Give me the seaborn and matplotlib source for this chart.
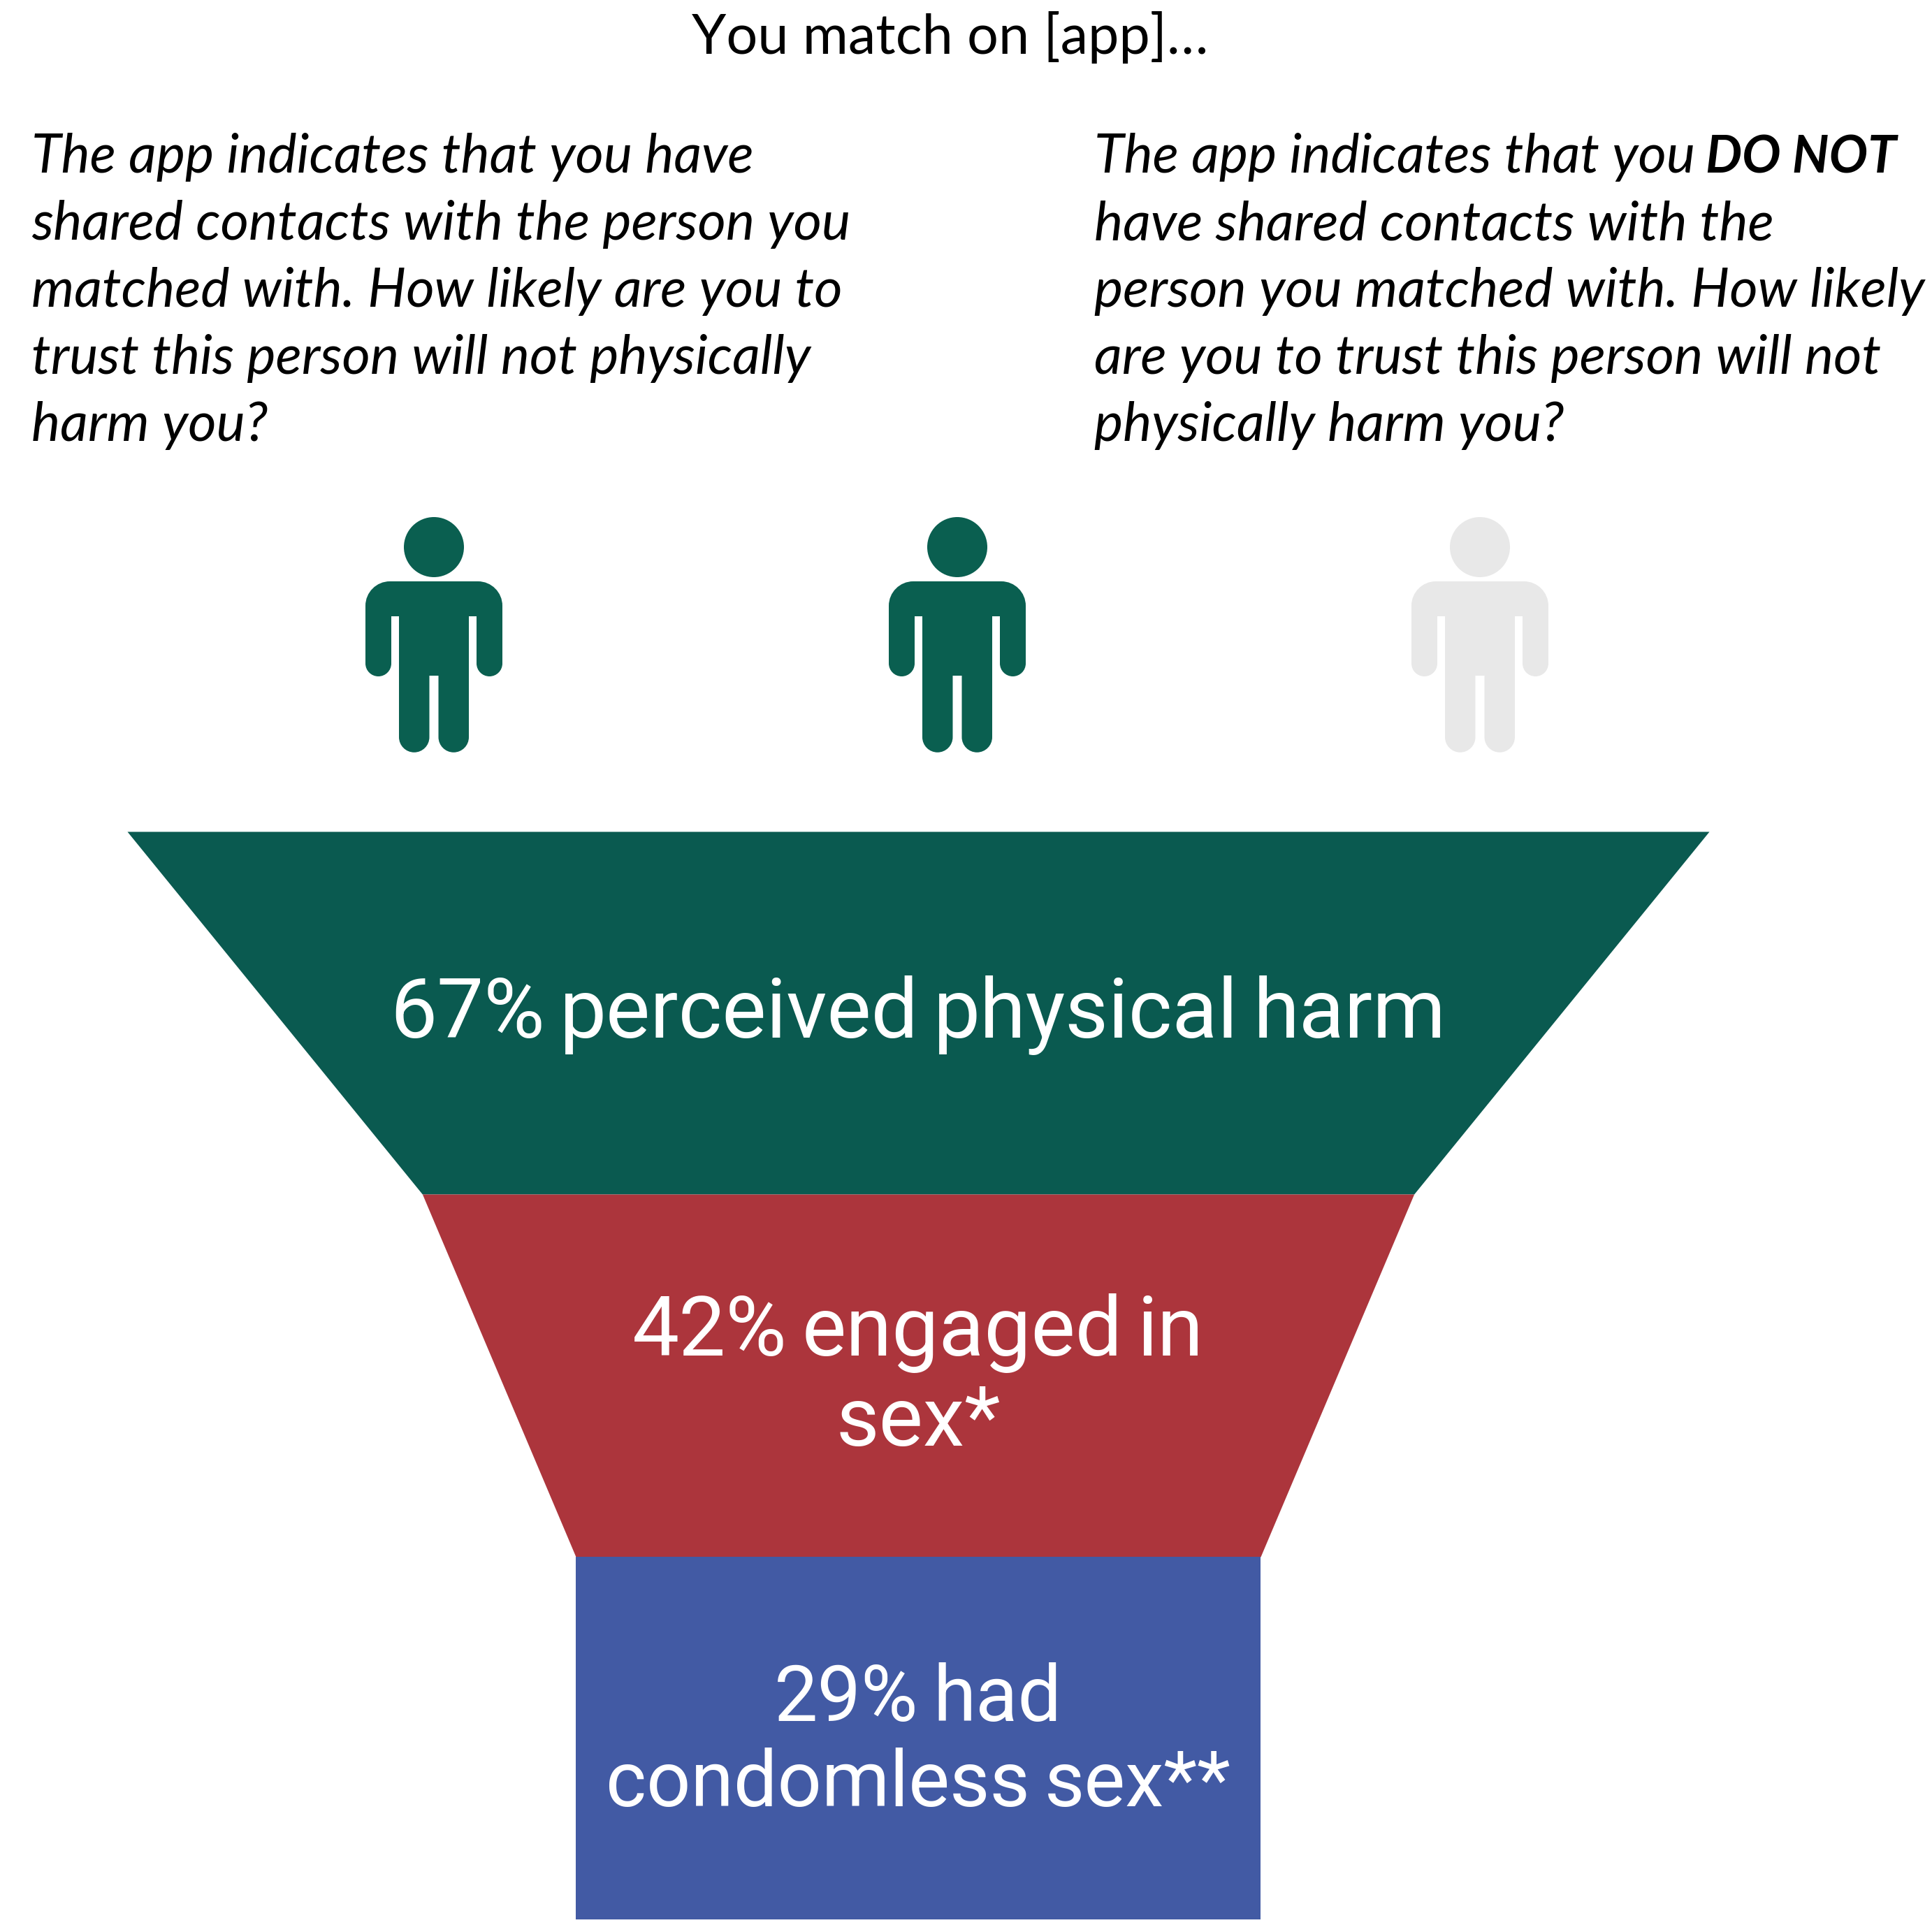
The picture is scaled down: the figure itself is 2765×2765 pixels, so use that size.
import matplotlib
matplotlib.use("Agg")
import matplotlib.pyplot as plt
import numpy as np
import seaborn as sns
from matplotlib.patches import Circle, PathPatch
from matplotlib.path import Path

# Funnel stages: share of respondents at each step
stage_values = [67, 42, 29]
stage_captions = [["{}% perceived physical harm"],
                  ["{}% engaged in", "sex*"],
                  ["{}% had", "condomless sex**"]]

title_text = "You match on [app]\u2026"
left_lines = ["The app indicates that you have",
              "shared contacts with the person you",
              "matched with. How likely are you to",
              "trust this person will not physically",
              "harm you?"]
right_lead = "The app indicates that you "
right_bold = "DO NOT"
right_lines = ["have shared contacts with the",
               "person you matched with. How likely",
               "are you to trust this person will not",
               "physically harm you?"]

# Two of three people are shown as contacts in common
people_shared = [True, True, False]

GREEN, RED, BLUE = "#0A5A50", "#AC353C", "#425AA4"
ICON_ON, ICON_OFF = "#0A5F50", "#E8E8E8"

sns.set_theme(style="white")
stage_colors = sns.color_palette([GREEN, RED, BLUE])

SIZE = 2765
fig = plt.figure(figsize=(SIZE / 100, SIZE / 100), dpi=100, facecolor="white")

# Funnel axes: x runs in percentage points centred on zero, y counts stages
left, right, top, bottom = 182, 2446, 1190, 2747
ax = fig.add_axes([left / SIZE, 1 - bottom / SIZE, (right - left) / SIZE, (bottom - top) / SIZE])
half_span = max(stage_values) / 2
ax.set_xlim(-half_span, half_span)
ax.set_ylim(len(stage_values), 0)
ax.axis("off")

lower_values = stage_values[1:] + stage_values[-1:]
for i, (upper, lower, color) in enumerate(zip(stage_values, lower_values, stage_colors)):
    levels = np.array([i, i + 1])
    half_widths = np.array([upper, lower]) / 2
    ax.fill_betweenx(levels, -half_widths, half_widths, color=color, linewidth=0)

# Overlay in pixel units for the wording and the people
px = fig.add_axes([0, 0, 1, 1], zorder=3)
px.set_xlim(0, SIZE)
px.set_ylim(SIZE, 0)
px.axis("off")
px.patch.set_alpha(0)

BODY = "Lato"
CAPTION = "Roboto"
body_size = 56

px.text(1360, 77, title_text, family=BODY, fontsize=57, ha="center", va="baseline", color="black")

line_gap = 96
first_base = 247
for n, line in enumerate(left_lines):
    px.text(45, first_base + n * line_gap, line, family=BODY, style="italic",
            fontsize=body_size, va="baseline", color="black")

px.text(1566, first_base, right_lead, family=BODY, style="italic",
        fontsize=body_size, va="baseline", color="black")
px.text(2441, first_base, right_bold, family=BODY, style="italic",
        weight="bold", fontsize=53, va="baseline", color="black")
for n, line in enumerate(right_lines, start=1):
    px.text(1566, first_base + n * line_gap, line, family=BODY, style="italic",
            fontsize=body_size, va="baseline", color="black")

# Stage captions are set word by word so the word gap stays tight
caption_bases = [[1485], [1940, 2069], [2463, 2585]]
caption_sizes = [86, 86, 80]
word_gap = 21
centre = (left + right) / 2
renderer = fig.canvas.get_renderer()
for value, lines, bases, size in zip(stage_values, stage_captions, caption_bases, caption_sizes):
    for line, base in zip(lines, bases):
        words = [px.text(0, base, w, family=CAPTION, fontsize=size, va="baseline", color="white")
                 for w in line.format(value).split(" ")]
        widths = [w.get_window_extent(renderer).width for w in words]
        x = centre - (sum(widths) + word_gap * (len(words) - 1)) / 2
        for word, width in zip(words, widths):
            word.set_x(x)
            x += width + word_gap


def arc(cx, cy, r, start, end):
    """Cubic control points for a quarter circle, excluding its first point."""
    k = 0.5523
    a0, a1 = np.radians(start), np.radians(end)
    p0 = np.array([cx + r * np.cos(a0), cy + r * np.sin(a0)])
    p3 = np.array([cx + r * np.cos(a1), cy + r * np.sin(a1)])
    d0 = np.array([-np.sin(a0), np.cos(a0)]) * np.sign(end - start)
    d3 = np.array([-np.sin(a1), np.cos(a1)]) * np.sign(end - start)
    return [tuple(p0 + k * r * d0), tuple(p3 - k * r * d3), tuple(p3)]


def half_body():
    """Right half of the person's outline, origin at the middle of the shoulder line."""
    verts = [(-2, 0), (63, 0)]
    codes = [Path.MOVETO, Path.LINETO]

    def curve(*args):
        verts.extend(arc(*args))
        codes.extend([Path.CURVE4] * 3)

    def line(x, y):
        verts.append((x, y))
        codes.append(Path.LINETO)

    curve(63, 35, 35, -90, 0)          # shoulder
    line(98, 117.5)
    curve(79.5, 117.5, 18.5, 0, 90)    # hand
    curve(79.5, 117.5, 18.5, 90, 180)
    line(61, 50)
    line(50, 50)
    line(50, 223)
    curve(28.25, 223, 21.75, 0, 90)    # foot
    curve(28.25, 223, 21.75, 90, 180)
    line(6.5, 135)
    line(-2, 135)
    verts.append((-2, 0))
    codes.append(Path.CLOSEPOLY)
    return np.array(verts, float), codes


body_verts, body_codes = half_body()
icon_xs = [621, 1370, 2118]
shoulder_y = 832
for x0, shared in zip(icon_xs, people_shared):
    color = ICON_ON if shared else ICON_OFF
    for side in (1, -1):
        placed = body_verts * [side, 1] + [x0, shoulder_y]
        px.add_patch(PathPatch(Path(placed, body_codes), facecolor=color, linewidth=0))
    px.add_patch(Circle((x0, shoulder_y - 49), 43, facecolor=color, linewidth=0))

fig.savefig("out.png", dpi=100, facecolor="white")
